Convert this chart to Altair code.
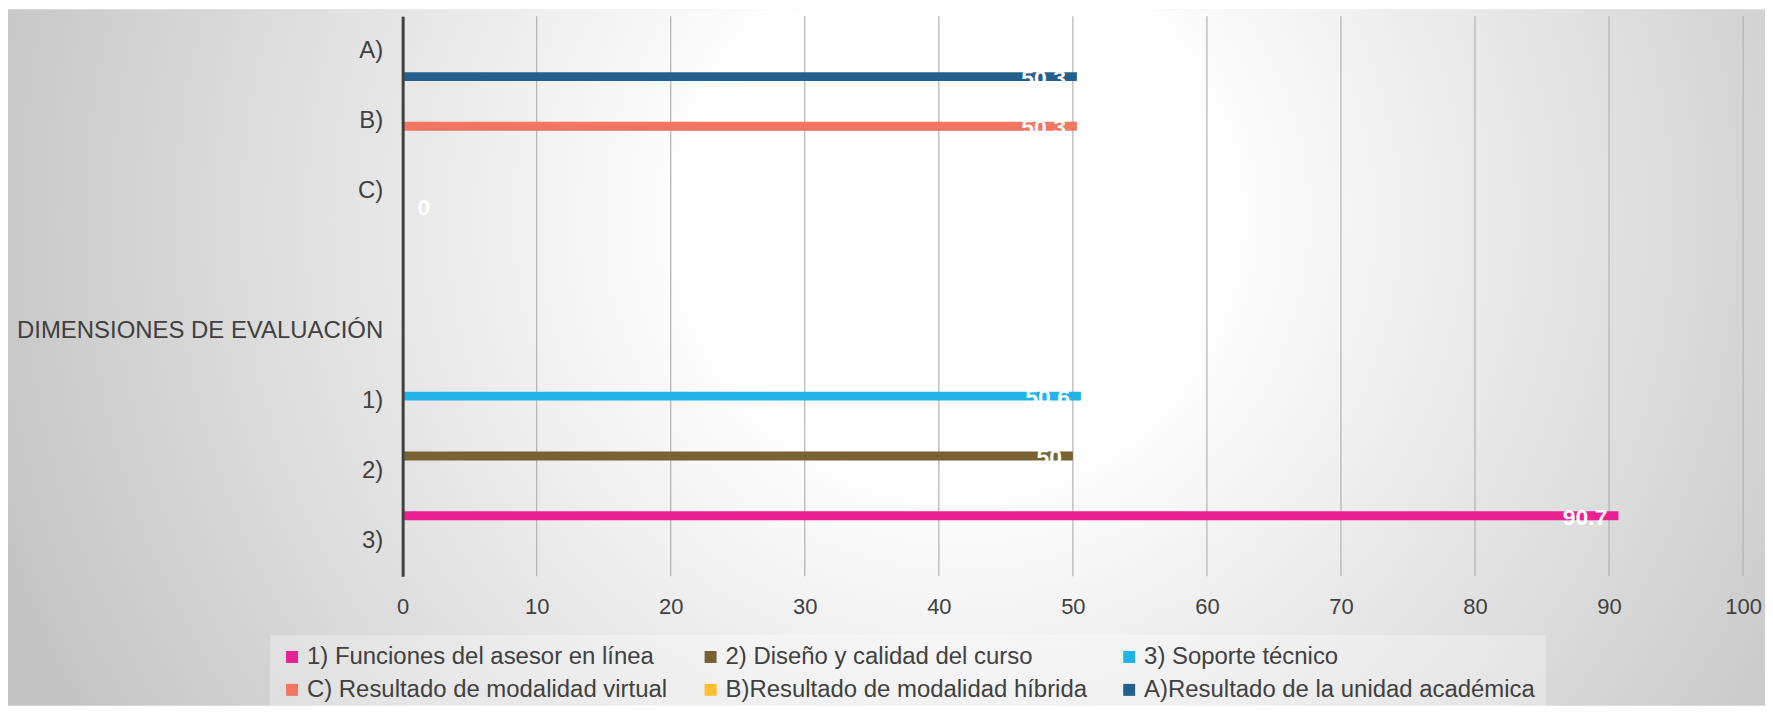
import altair as alt
import pandas as pd

# ---------------- data ----------------
categories = ["A)", "B)", "C)", " ", "DIMENSIONES DE EVALUACIÓN", "1)", "2)", "3)"]
series = [
    "1) Funciones del asesor en línea",
    "2) Diseño y calidad del curso",
    "3) Soporte técnico",
    "C) Resultado de modalidad virtual",
    "B)Resultado de modalidad híbrida",
    "A)Resultado de la unidad académica",
]
colors = ["#ea2093", "#7a6134", "#22b4e9", "#f47560", "#fdbf30", "#245f8d"]
bar_category = ["3)", "2)", "1)", "B)", "C)", "A)"]
bar_values = [90.7, 50, 50.6, 50.3, 0, 50.3]
x_ticks = [0, 10, 20, 30, 40, 50, 60, 70, 80, 90, 100]

df = pd.DataFrame({
    "series": series,
    "cat": bar_category,
    "value": bar_values,
    "label": [f"{v:g}" for v in bar_values],
})
ticks_df = pd.DataFrame({"tick": x_ticks})
bg_df = pd.DataFrame({"bg": [0]})

W, H = 1345, 562
PAD = {"left": 396, "top": 7, "right": 22, "bottom": 130}
FONT = "Liberation Sans"
TXT = "#404040"

x_scale = alt.Scale(domain=[0, 100], nice=False, zero=True)
x_axis = alt.Axis(title=None, values=x_ticks, grid=False, ticks=False, domain=False,
                  labelFontSize=22, labelColor=TXT, labelPadding=20, labelFlush=False,
                  labelOverlap=False, zindex=1)
y_scale = alt.Scale(domain=categories, paddingInner=0, paddingOuter=0)
y_axis = alt.Axis(title=None, ticks=False, domainColor=TXT, domainWidth=3,
                  labelFontSize=24, labelColor=TXT, labelPadding=20, labelLimit=700, zindex=1)
off_scale = alt.Scale(domain=series, paddingInner=0.12, paddingOuter=0.5)

# background radial gradient
bg = alt.Chart(bg_df).mark_rect(
    fill=alt.RadialGradient(
        gradient="radial",
        stops=[
            alt.GradientStop(offset=0, color="#ffffff"),
            alt.GradientStop(offset=0.25, color="#ffffff"),
            alt.GradientStop(offset=1, color="#c4c4c4"),
        ],
        x1=0.54, y1=0.42, r1=0, x2=0.54, y2=0.42, r2=0.58,
    )
).encode(
    x=alt.value(-PAD["left"]), x2=alt.value(W + PAD["right"]),
    y=alt.value(-PAD["top"]), y2=alt.value(H + PAD["bottom"]),
)

grid = alt.Chart(ticks_df).mark_rule(color="#b2b2b2", strokeWidth=1.2).encode(
    x=alt.X("tick:Q", scale=x_scale, axis=x_axis),
)

base = alt.Chart(df).encode(
    x=alt.X("value:Q", scale=x_scale, axis=x_axis),
    y=alt.Y("cat:N", scale=y_scale, axis=y_axis, sort=categories),
    yOffset=alt.YOffset("series:N", scale=off_scale, sort=series),
)

bars = base.mark_bar().encode(
    color=alt.Color(
        "series:N",
        scale=alt.Scale(domain=series, range=colors),
        sort=series,
        legend=alt.Legend(
            title=None, orient="none", legendX=-133, legendY=621, columns=3,
            direction="horizontal",
            symbolType="square", symbolSize=144, symbolStrokeWidth=0,
            labelFontSize=24, labelColor=TXT, labelLimit=700, labelOffset=3,
            fillColor="rgba(255,255,255,0.3)", padding=10, rowPadding=9,
            columnPadding=-22, gridAlign="all",
        ),
    )
)

labels_pos = base.transform_filter("datum.value > 0").mark_text(
    color="white", fontWeight="bold", fontSize=23, align="right", dx=-11,
    baseline="middle", dy=2,
).encode(text="label:N")

labels_zero = base.transform_filter("datum.value == 0").mark_text(
    color="white", fontWeight="bold", fontSize=23, align="left", dx=15,
    baseline="middle", dy=2,
).encode(text="label:N")

chart = alt.layer(bg, grid, bars, labels_pos, labels_zero).properties(
    width=W, height=H,
    autosize=alt.AutoSizeParams(type="none"),
    padding=PAD,
).configure(
    font=FONT,
).configure_view(stroke=None)

chart.save("out.html", embed_options={"renderer": "svg", "actions": False})
